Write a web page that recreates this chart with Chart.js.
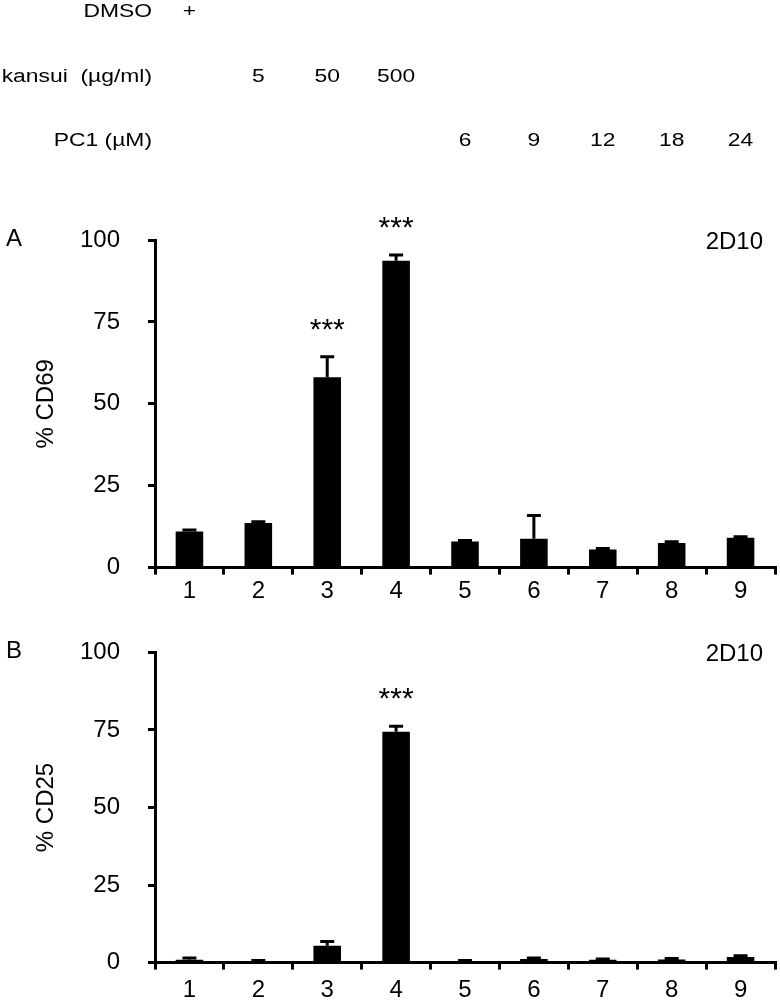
<!DOCTYPE html>
<html><head><meta charset="utf-8">
<script src="https://cdn.jsdelivr.net/npm/chart.js@4.4.1/dist/chart.umd.min.js"></script>
<style>
html,body{margin:0;padding:0;background:#fff;}
#wrapA{position:absolute;left:0;top:0;width:780px;height:610px;}
#wrapB{position:absolute;left:0;top:610px;width:780px;height:395px;}
canvas{display:block;}
</style></head><body>
<div id="wrapA"><canvas id="cA" width="780" height="610"></canvas></div>
<div id="wrapB"><canvas id="cB" width="780" height="395"></canvas></div>
<script>
// ---- data ----
const categories = ['1', '2', '3', '4', '5', '6', '7', '8', '9'];
const headerLabels = ['DMSO', 'kansui  (\u00b5g/ml)', 'PC1 (\u00b5M)'];
const dmsoRow   = ['+', '', '', '', '', '', '', '', ''];
const kansuiRow = ['', '5', '50', '500', '', '', '', '', ''];
const pc1Row    = ['', '', '', '', '6', '9', '12', '18', '24'];

const cd69Values = [11.0, 13.6, 58.1, 93.7, 8.0, 8.8, 5.5, 7.5, 9.1];
const cd69Errors = [0.5, 0.4, 6.3, 1.7, 0.3, 7.1, 0.3, 0.4, 0.3];
const cd69Sig    = ['', '', '***', '***', '', '', '', '', ''];

const cd25Values = [0.9, 0.5, 5.4, 74.4, 0.5, 1.2, 0.9, 1.0, 1.8];
const cd25Errors = [0.6, 0.2, 1.4, 1.8, 0.2, 0.3, 0.3, 0.3, 0.4];
const cd25Sig    = ['', '', '', '***', '', '', '', '', ''];

const yMin = 0, yMax = 100, yStep = 25;
const cellLine = '2D10';

// ---- styling ----
const FONT = "'Liberation Sans', Arial, sans-serif";

const errorBarPlugin = {
  id: 'errorBars',
  afterDatasetsDraw(chart, args, opts) {
    const ctx = chart.ctx;
    const meta = chart.getDatasetMeta(0);
    const ys = chart.scales.y;
    const vals = chart.data.datasets[0].data;
    ctx.save();
    ctx.strokeStyle = '#000';
    ctx.lineWidth = 3;
    meta.data.forEach((bar, i) => {
      const e = opts.errors[i];
      const yBar = ys.getPixelForValue(vals[i]);
      const yTop = ys.getPixelForValue(vals[i] + e);
      ctx.beginPath();
      ctx.moveTo(bar.x, yBar);
      ctx.lineTo(bar.x, yTop);
      ctx.moveTo(bar.x - 7, yTop);
      ctx.lineTo(bar.x + 7, yTop);
      ctx.stroke();
      const s = opts.sig[i];
      if (s) {
        ctx.fillStyle = '#000';
        ctx.font = '30px ' + FONT;
        ctx.textAlign = 'center';
        ctx.textBaseline = 'alphabetic';
        ctx.fillText(s, bar.x, yTop - 18);
      }
    });
    ctx.restore();
  }
};

const panelTextPlugin = {
  id: 'panelText',
  afterDraw(chart, args, opts) {
    const ctx = chart.ctx;
    const ca = chart.chartArea;
    ctx.save();
    ctx.fillStyle = '#000';
    ctx.font = '24px ' + FONT;
    ctx.textBaseline = 'alphabetic';
    ctx.textAlign = 'left';
    ctx.fillText(opts.panel, 6, ca.top + 6);
    ctx.textAlign = 'right';
    ctx.fillText(opts.tag, 763, ca.top + 9);
    if (opts.header) {
      const xs = chart.scales.x;
      const rows = [dmsoRow, kansuiRow, pc1Row];
      const baselines = [17, 82, 146];
      ctx.font = '18px ' + FONT;
      rows.forEach((row, r) => {
        ctx.save();
        ctx.translate(152, baselines[r]);
        ctx.scale(1.27, 1);
        ctx.textAlign = 'right';
        ctx.fillText(headerLabels[r], 0, 0);
        ctx.restore();
        row.forEach((t, i) => {
          if (!t) return;
          const x = xs.getPixelForValue(i);
          ctx.save();
          ctx.translate(x, baselines[r]);
          ctx.scale(1.27, 1);
          ctx.textAlign = 'center';
          ctx.fillText(t, 0, 0);
          ctx.restore();
        });
      });
    }
    ctx.restore();
  }
};

function makeChart(canvasId, values, errors, sig, yTitle, panel, header, topPad, xHeight, xPad) {
  return new Chart(document.getElementById(canvasId), {
    type: 'bar',
    data: {
      labels: categories,
      datasets: [{
        data: values,
        backgroundColor: '#000',
        borderWidth: 0,
        barPercentage: 0.4,
        categoryPercentage: 1.0
      }]
    },
    options: {
      responsive: false,
      animation: false,
      events: [],
      layout: { padding: { top: topPad, right: 5, left: 0, bottom: 0 } },
      plugins: {
        legend: { display: false },
        tooltip: { enabled: false },
        errorBars: { errors: errors, sig: sig },
        panelText: { panel: panel, tag: cellLine, header: header }
      },
      scales: {
        x: {
          offset: true,
          grid: { display: true, offset: true, drawOnChartArea: false, drawTicks: true, tickLength: 7, lineWidth: 3, color: '#000' },
          border: { display: true, width: 3, color: '#000' },
          ticks: { color: '#000', font: { family: FONT, size: 24 }, padding: xPad, maxRotation: 0 },
          afterFit(s) { s.height = xHeight; }
        },
        y: {
          min: yMin, max: yMax,
          grid: { display: true, drawOnChartArea: false, drawTicks: true, tickLength: 7, lineWidth: 3, color: '#000' },
          border: { display: true, width: 3, color: '#000' },
          ticks: { stepSize: yStep, color: '#000', font: { family: FONT, size: 24 }, padding: 28 },
          title: { display: true, text: yTitle, color: '#000', font: { family: FONT, size: 24 }, padding: { top: 32, bottom: 0 } },
          afterFit(s) { s.width = 155; }
        }
      }
    },
    plugins: [errorBarPlugin, panelTextPlugin]
  });
}

makeChart('cA', cd69Values, cd69Errors, cd69Sig, '% CD69', 'A', true, 240, 42, 2);
makeChart('cB', cd25Values, cd25Errors, cd25Sig, '% CD25', 'B', false, 32, 35, 6);
</script>
</body></html>
